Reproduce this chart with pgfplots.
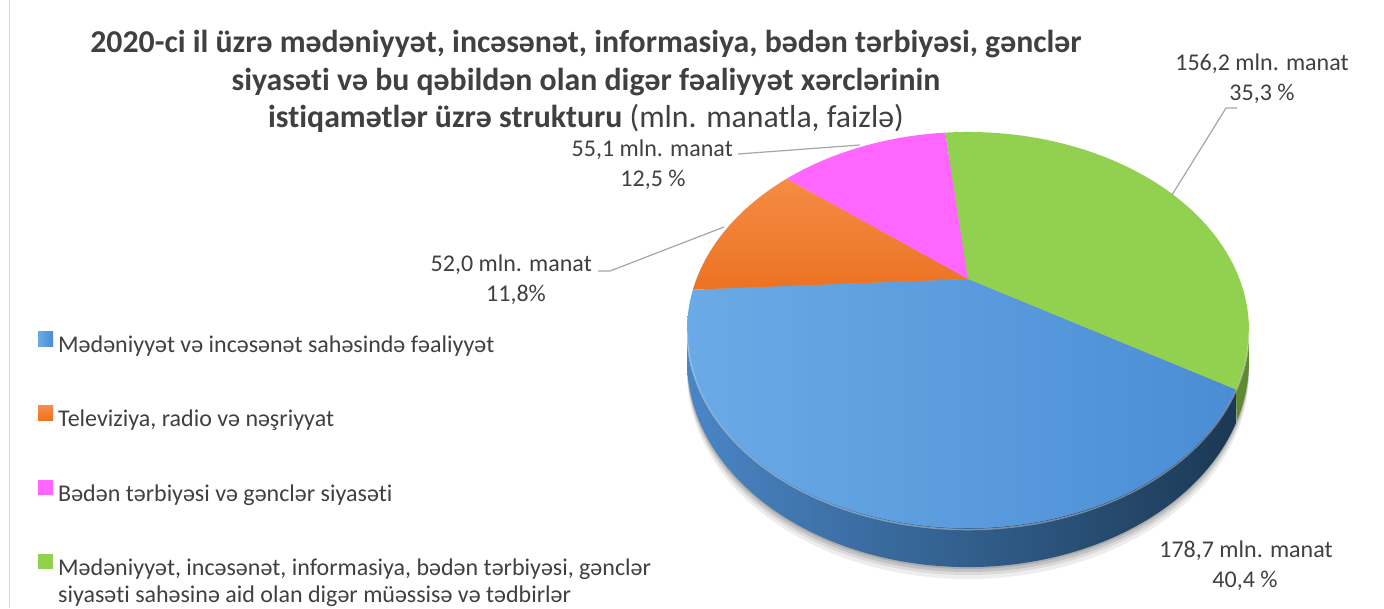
\documentclass[border=0pt]{standalone}
\usepackage{pgfplots}
\pgfplotsset{compat=1.18}
\usepackage{fontspec}
\setmainfont{Carlito}[Ligatures=NoCommon]
\definecolor{txt}{HTML}{404040}
\definecolor{lead}{HTML}{A6A6A6}
\definecolor{blueL}{HTML}{6AAAE6}
\definecolor{blueR}{HTML}{4A8DD4}
\definecolor{sideL}{HTML}{4A86C6}
\definecolor{sideR}{HTML}{1B3854}
\definecolor{orT}{HTML}{F68C45}
\definecolor{orB}{HTML}{EC7222}
\definecolor{pinkC}{HTML}{FF66FF}
\definecolor{greenC}{HTML}{92D050}
\definecolor{greenS}{HTML}{5F8A30}
% data (mln. manat)
\def\vA{178.7}\def\vB{52.0}\def\vC{55.1}\def\vD{156.2}
\pgfmathsetmacro\tot{\vA+\vB+\vC+\vD}
\pgfmathsetmacro\tS{121.2}
\pgfmathsetmacro\tA{\tS+360*(\vA/\tot)}
\pgfmathsetmacro\tB{\tA+360*(\vB/\tot)}
\pgfmathsetmacro\tC{\tB+360*(\vC/\tot)}
\pgfmathsetmacro\tD{\tC+360*(\vD/\tot)}
\def\tR{104.93}\def\tL{255.07}
\begin{document}
\begin{tikzpicture}
\path[use as bounding box, fill=white] (0,0) rectangle (1384pt,608pt);
\begin{axis}[at={(0,0)}, anchor=south west, scale only axis,
  width=1384pt, height=608pt, xmin=0, xmax=1384, ymin=0, ymax=608,
  hide axis, clip=false,
  declare function={
    px(\t)=968+271.5*sin(\t)/(1+0.2576*cos(\t));
    py(\t)=329+184.9*cos(\t)/(1+0.2576*cos(\t));
    pb(\t)=329+(184.9*cos(\t)-29)/(1+0.2576*cos(\t));
  },
  legend cell align=left,
  legend style={at={(axis cs:38,277)}, anchor=north west, draw=none, fill=none,
    inner sep=0pt, row sep=47.4pt, column sep=5pt,
    font=\fontsize{24}{27.5}\selectfont, text=txt,
    nodes={inner sep=0pt, text height=18pt, text depth=6pt}},
  legend image code/.code={\fill[#1] (0pt,0pt) rectangle (15pt,15pt);},
]
% frame line
\addplot[forget plot, draw=black!15, line width=1pt] coordinates {(9,0) (9,608)};
% shadow
\addplot[forget plot, draw=none, fill=black, fill opacity=0.07, domain=0:360, samples=120, variable=\t] ({px(\t)},{pb(\t)-12});
\addplot[forget plot, draw=none, fill=black, fill opacity=0.08, domain=0:360, samples=120, variable=\t] ({px(\t)},{pb(\t)-8});
\addplot[forget plot, draw=none, fill=black, fill opacity=0.10, domain=0:360, samples=120, variable=\t] ({px(\t)},{pb(\t)-5});
\addplot[forget plot, draw=none, fill=black, fill opacity=0.12, domain=0:360, samples=120, variable=\t] ({px(\t)},{pb(\t)-2});
% sides
\addplot[forget plot, draw=none, left color=sideL, right color=sideR, domain=0:2, samples=241, variable=\s]
  ({ifthenelse(\s<1, px(\tS+(\tL-\tS)*\s), px(\tL-(\tL-\tS)*(\s-1)))},
   {ifthenelse(\s<1, py(\tS+(\tL-\tS)*\s), pb(\tL-(\tL-\tS)*(\s-1)))});
\addplot[forget plot, draw=none, fill=greenS, domain=0:2, samples=61, variable=\s]
  ({ifthenelse(\s<1, px(\tR+(\tS-\tR)*\s), px(\tS-(\tS-\tR)*(\s-1)))},
   {ifthenelse(\s<1, py(\tR+(\tS-\tR)*\s), pb(\tS-(\tS-\tR)*(\s-1)))});
% top faces
\addplot[draw=none, left color=blueL, right color=blueR, domain=\tS:\tA, samples=100, variable=\t]
  ({px(\t)},{py(\t)}) -- (axis cs:968,329) -- cycle;
\addlegendentry{Mədəniyyət və incəsənət sahəsində fəaliyyət}
\addplot[draw=none, top color=orT, bottom color=orB, domain=\tA:\tB, samples=40, variable=\t]
  ({px(\t)},{py(\t)}) -- (axis cs:968,329) -- cycle;
\addlegendentry{Televiziya, radio və nəşriyyat}
\addplot[draw=none, fill=pinkC, domain=\tB:\tC, samples=40, variable=\t]
  ({px(\t)},{py(\t)}) -- (axis cs:968,329) -- cycle;
\addlegendentry{Bədən tərbiyəsi və gənclər siyasəti}
\addplot[draw=none, fill=greenC, domain=\tC:\tD, samples=100, variable=\t]
  ({px(\t)},{py(\t)}) -- (axis cs:968,329) -- cycle;
\addlegendentry{\begin{tabular}[t]{@{}l@{}}Mədəniyyət, incəsənət, informasiya, bədən tərbiyəsi, gənclər\\siyasəti sahəsinə aid olan digər müəssisə və tədbirlər\end{tabular}}
% rim highlight
\addplot[forget plot, draw=white, draw opacity=0.35, line width=1.5pt, domain=\tR:\tL, samples=100, variable=\t] ({px(\t)},{py(\t)-1.5});
% leader lines
\addplot[forget plot, draw=lead, line width=1.2pt] coordinates {(1237,500) (1226,500) (1172,413)};
\addplot[forget plot, draw=lead, line width=1.2pt] coordinates {(738,454) (860,463)};
\addplot[forget plot, draw=lead, line width=1.2pt] coordinates {(598,337) (610,337) (724,381)};
% data labels
\begin{scope}[every node/.style={font=\fontsize{24}{29}\selectfont, text=txt, inner sep=0pt}]
\node[anchor=base] at (axis cs:1262,537) {156,2 mln. manat};
\node[anchor=base] at (axis cs:1262,507) {35,3 \%};
\node[anchor=base east] at (axis cs:733,451) {55,1 mln. manat};
\node[anchor=base] at (axis cs:653,421) {12,5 \%};
\node[anchor=base east] at (axis cs:592,336) {52,0 mln. manat};
\node[anchor=base] at (axis cs:516,306) {11,8\%};
\node[anchor=base] at (axis cs:1246,50) {178,7 mln. manat};
\node[anchor=base] at (axis cs:1245,20) {40,4 \%};
\end{scope}
% title
\begin{scope}[every node/.style={font=\fontsize{31.8}{37.5}\selectfont, text=txt, inner sep=0pt, anchor=base}]
\node at (axis cs:586,555) {\textbf{2020-ci il üzrə mədəniyyət, incəsənət, informasiya, bədən tərbiyəsi, gənclər}};
\node at (axis cs:586,517.5) {\textbf{siyasəti və bu qəbildən olan digər fəaliyyət xərclərinin}};
\node at (axis cs:586,480) {\textbf{istiqamətlər üzrə strukturu} (mln. manatla, faizlə)};
\end{scope}
\end{axis}
\end{tikzpicture}
\end{document}
